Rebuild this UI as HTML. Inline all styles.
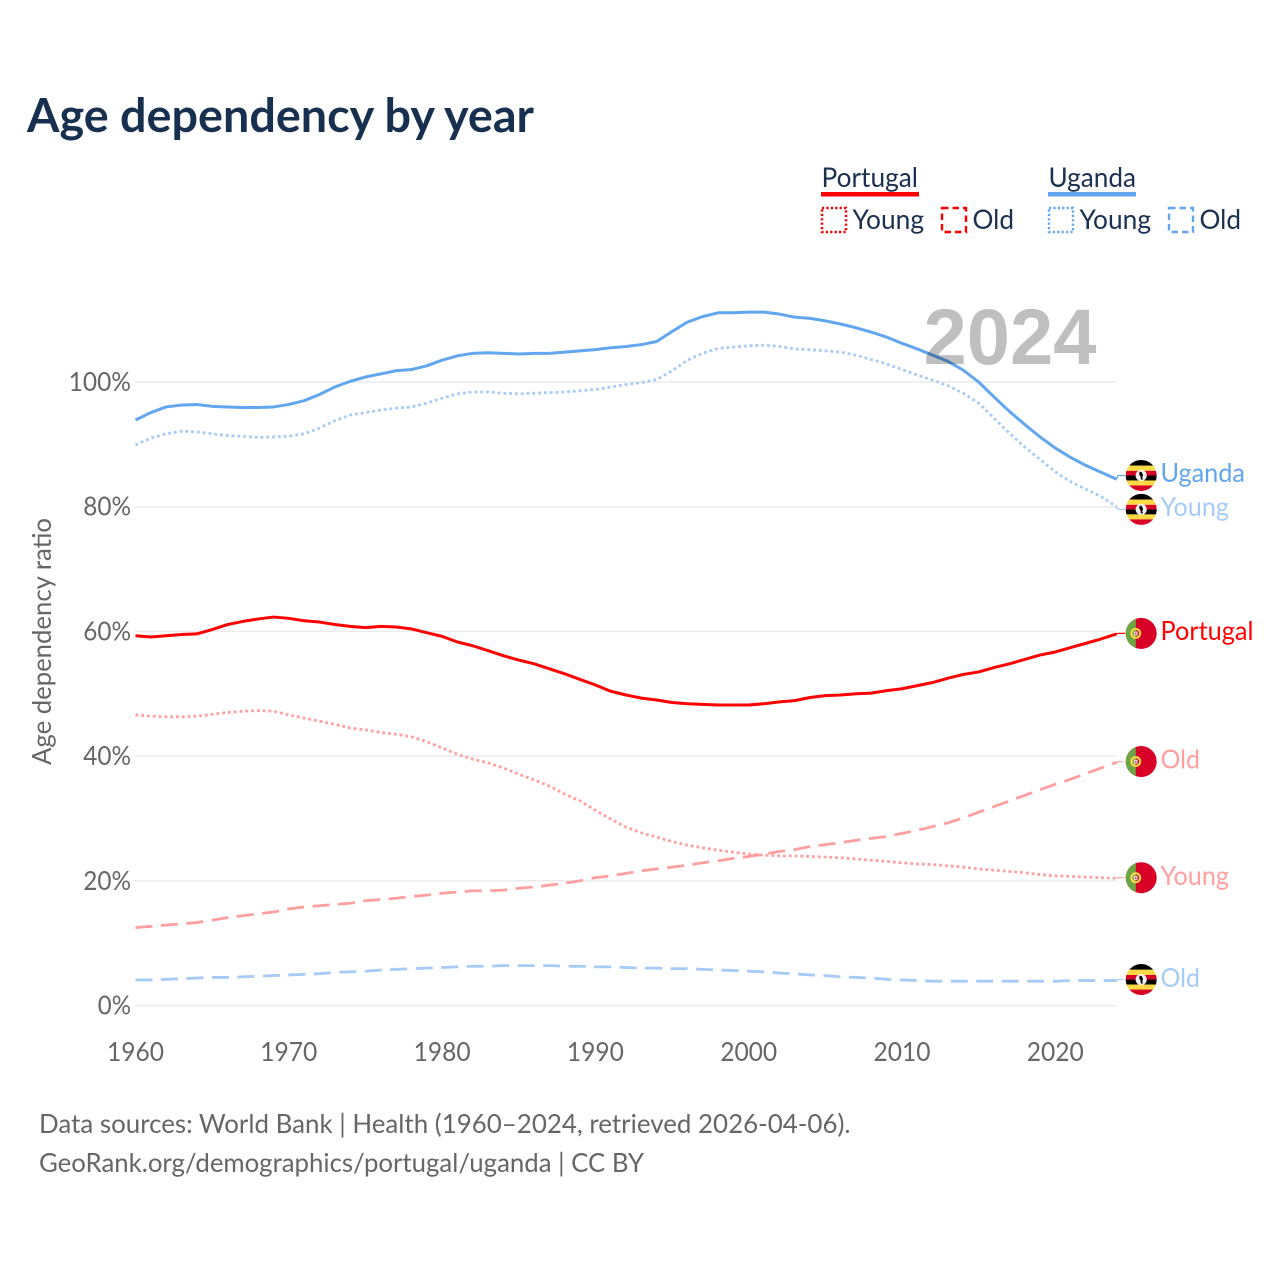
<!DOCTYPE html>
<html lang="en">
<head>
<meta charset="utf-8">
<title>Age dependency by year</title>
<style>
html,body{margin:0;padding:0;background:#fff;}
svg{display:block;}
text{font-family:"Lato","Carlito","Liberation Sans",sans-serif;}
.tick{font-size:26.5px;fill:#666;}
.lg{font-size:27.5px;fill:#1a3152;}
.src{font-size:26.5px;fill:#666;}
</style>
</head>
<body>
<svg id="chart" xmlns="http://www.w3.org/2000/svg" width="1280" height="1280" viewBox="0 0 1280 1280">
  <rect width="1280" height="1280" fill="#fff"/>
  <defs>
    <clipPath id="flag-clip"><circle r="15.5"/></clipPath>
    <g id="flag-ug" clip-path="url(#flag-clip)">
      <rect x="-16" y="-16" width="32" height="6.2" fill="#000"/>
      <rect x="-16" y="-9.8" width="32" height="5.2" fill="#ffda44"/>
      <rect x="-16" y="-4.6" width="32" height="4.6" fill="#d80027"/>
      <rect x="-16" y="0" width="32" height="5" fill="#000"/>
      <rect x="-16" y="5" width="32" height="5" fill="#ffda44"/>
      <rect x="-16" y="10" width="32" height="6" fill="#d80027"/>
      <circle r="5.6" fill="#f0f0f0"/>
      <path d="M-1.6 -3.8 L0.6 -3.4 L1.8 -0.4 L1 2 L1.8 4 L-0.4 4 L-0.6 1 L-2 -1 Z" fill="#000"/>
    </g>
    <g id="flag-pt" clip-path="url(#flag-clip)">
      <rect x="-16" y="-16" width="32" height="32" fill="#d80027"/>
      <rect x="-16" y="-16" width="10.6" height="32" fill="#6da544"/>
      <circle cx="-5.4" r="4.4" fill="none" stroke="#ffda44" stroke-width="2.1"/>
      <rect x="-7.2" y="-1.8" width="3.6" height="3.8" fill="#f0f0f0"/>
      <rect x="-6.1" y="-0.7" width="1.4" height="1.6" fill="#d80027"/>
    </g>
  </defs>

  <text x="27" y="132" font-size="47" font-weight="700" fill="#17304f" textLength="507" lengthAdjust="spacingAndGlyphs">Age dependency by year</text>

  <g>
    <text class="lg" x="821.5" y="187" textLength="96.5" lengthAdjust="spacingAndGlyphs">Portugal</text>
    <rect x="821" y="192" width="98" height="4.5" fill="#ff0000"/>
    <rect x="822" y="208" width="24" height="24" fill="none" stroke="#ff0000" stroke-width="2.4" stroke-dasharray="2.2 2.2"/>
    <text class="lg" x="852.5" y="229" textLength="71.5" lengthAdjust="spacingAndGlyphs">Young</text>
    <rect x="942" y="208" width="24" height="24" fill="none" stroke="#ff0000" stroke-width="2.4" stroke-dasharray="6.5 4"/>
    <text class="lg" x="972.5" y="229" textLength="41.5" lengthAdjust="spacingAndGlyphs">Old</text>
    <text class="lg" x="1048.5" y="187" textLength="87.5" lengthAdjust="spacingAndGlyphs">Uganda</text>
    <rect x="1048" y="192" width="88" height="4.5" fill="#63a6f0"/>
    <rect x="1049" y="208" width="24" height="24" fill="none" stroke="#63a6f0" stroke-width="2.4" stroke-dasharray="2.2 2.2"/>
    <text class="lg" x="1079.5" y="229" textLength="71.5" lengthAdjust="spacingAndGlyphs">Young</text>
    <rect x="1169" y="208" width="24" height="24" fill="none" stroke="#63a6f0" stroke-width="2.4" stroke-dasharray="6.5 4"/>
    <text class="lg" x="1199.5" y="229" textLength="41.5" lengthAdjust="spacingAndGlyphs">Old</text>
  </g>

  <text class="tick" transform="translate(51,765) rotate(-90)" textLength="247" lengthAdjust="spacingAndGlyphs">Age dependency ratio</text>

  <g id="grid"></g>
  <g id="yticks"></g>
  <g id="xticks"></g>
  <g id="lines"></g>
  <g id="ends"></g>

  <text x="923.5" y="364" font-size="79" font-weight="700" fill="#000" fill-opacity="0.25" style="font-family:'Liberation Sans',sans-serif" textLength="173" lengthAdjust="spacingAndGlyphs">2024</text>

  <text class="src" x="39" y="1133" textLength="811.5" lengthAdjust="spacingAndGlyphs">Data sources: World Bank | Health (1960–2024, retrieved 2026-04-06).</text>
  <text class="src" x="39" y="1172" textLength="605" lengthAdjust="spacingAndGlyphs">GeoRank.org/demographics/portugal/uganda | CC BY</text>
</svg>
<script>
const firstYear = 1960;
const xTickYears = [1960, 1970, 1980, 1990, 2000, 2010, 2020];
const yTickValues = [0, 20, 40, 60, 80, 100];
const yTickLabels = ['0%', '20%', '40%', '60%', '80%', '100%'];

const ugandaTotal = [
  93.9,95.1,96.0,96.3,96.4,
  96.1,96.0,95.9,95.9,96.0,
  96.4,97.0,98.0,99.2,100.1,
  100.8,101.3,101.8,102.0,102.6,
  103.5,104.2,104.6,104.7,104.6,
  104.5,104.6,104.6,104.8,105.0,
  105.2,105.5,105.7,106.0,106.5,
  108.1,109.6,110.5,111.1,111.1,
  111.2,111.2,110.9,110.4,110.2,
  109.8,109.3,108.7,108.0,107.2,
  106.2,105.3,104.3,103.3,101.9,
  100.0,97.6,95.3,93.2,91.2,
  89.4,87.9,86.6,85.5,84.4
];
const ugandaYoung = [
  89.9,91.0,91.7,92.1,92.0,
  91.7,91.4,91.3,91.1,91.2,
  91.3,91.7,92.6,93.8,94.7,
  95.1,95.5,95.8,96.0,96.6,
  97.4,98.1,98.4,98.4,98.2,
  98.1,98.2,98.3,98.4,98.6,
  98.8,99.2,99.6,99.9,100.4,
  101.8,103.5,104.6,105.4,105.6,
  105.8,105.9,105.7,105.3,105.2,
  105.0,104.8,104.3,103.6,102.9,
  102.0,101.1,100.3,99.4,98.2,
  96.6,94.2,91.8,89.6,87.6,
  85.6,84.0,82.8,81.6,80.0
];
const ugandaOld = [
  4.1,4.1,4.2,4.3,4.4,
  4.5,4.5,4.6,4.7,4.8,
  4.9,5.0,5.1,5.3,5.4,
  5.5,5.7,5.8,5.9,6.0,
  6.1,6.2,6.3,6.3,6.4,
  6.4,6.4,6.4,6.3,6.3,
  6.2,6.2,6.1,6.0,6.0,
  5.9,5.9,5.8,5.7,5.6,
  5.5,5.4,5.2,5.1,4.9,
  4.8,4.6,4.5,4.4,4.2,
  4.1,4.0,3.9,3.9,3.9,
  3.9,3.9,3.9,3.9,3.9,
  3.9,4.0,4.0,4.0,4.0
];
const portugalTotal = [
  59.3,59.1,59.3,59.5,59.6,
  60.3,61.1,61.6,62.0,62.3,
  62.1,61.7,61.5,61.1,60.8,
  60.6,60.8,60.7,60.4,59.8,
  59.2,58.3,57.7,56.9,56.1,
  55.4,54.8,54.0,53.2,52.3,
  51.4,50.4,49.8,49.3,49.0,
  48.6,48.4,48.3,48.2,48.2,
  48.2,48.4,48.7,48.9,49.4,
  49.7,49.8,50.0,50.1,50.5,
  50.8,51.3,51.8,52.5,53.1,
  53.5,54.2,54.8,55.5,56.2,
  56.7,57.4,58.1,58.8,59.6
];
const portugalYoung = [
  46.6,46.4,46.3,46.3,46.4,
  46.7,47.0,47.2,47.3,47.2,
  46.6,46.1,45.6,45.1,44.5,
  44.2,43.8,43.5,43.1,42.3,
  41.3,40.3,39.5,38.9,38.1,
  37.1,36.2,35.2,33.9,32.8,
  31.3,29.9,28.6,27.7,27.0,
  26.3,25.7,25.3,24.9,24.6,
  24.3,24.1,24.0,24.0,23.9,
  23.8,23.7,23.5,23.3,23.1,
  22.9,22.7,22.6,22.4,22.2,
  21.9,21.7,21.5,21.3,21.0,
  20.8,20.7,20.6,20.5,20.4
];
const portugalOld = [
  12.5,12.7,12.9,13.1,13.3,
  13.7,14.1,14.4,14.7,15.0,
  15.5,15.8,16.0,16.2,16.4,
  16.8,17.0,17.2,17.5,17.7,
  18.0,18.2,18.4,18.4,18.5,
  18.8,19.0,19.3,19.6,20.0,
  20.5,20.8,21.2,21.6,21.9,
  22.2,22.5,22.9,23.2,23.6,
  23.9,24.3,24.7,25.0,25.5,
  25.8,26.1,26.5,26.8,27.1,
  27.6,28.1,28.7,29.3,30.1,
  31.0,31.9,32.8,33.7,34.6,
  35.5,36.3,37.2,38.1,39.0
];

function xScale(year) { return 135.5 + (year - 1960) * 15.33; }
function yScale(v) { return 1005.5 - v * 6.235; }

const NS = 'http://www.w3.org/2000/svg';
function make(tag, parent, attrs, txt) {
  const el = document.createElementNS(NS, tag);
  for (const k in attrs) el.setAttribute(k, attrs[k]);
  if (txt !== undefined) el.textContent = txt;
  parent.appendChild(el);
  return el;
}

const gridG = document.getElementById('grid');
const yG = document.getElementById('yticks');
const xG = document.getElementById('xticks');
const linesG = document.getElementById('lines');
const endsG = document.getElementById('ends');

yTickValues.forEach(function (v, i) {
  const line = make('line', gridG, { x1: 135, x2: 1116, y1: yScale(v), y2: yScale(v), stroke: '#ebebeb', 'stroke-width': 1.5 });
  
  
  const label = yTickLabels[i];
  const t = make('text', yG, { class: 'tick', x: 131, y: yScale(v) + 9, 'text-anchor': 'end', textLength: label.length * 14.6 + 4, lengthAdjust: 'spacingAndGlyphs' }, label);
  
  
});

xTickYears.forEach(function (yr) {
  const t = make('text', xG, { class: 'tick', x: xScale(yr), y: 1061, 'text-anchor': 'middle', textLength: 57, lengthAdjust: 'spacingAndGlyphs' }, String(yr));
  
  
});

function drawLine(values, color, width, dash, name) {
  const d = values.map(function (v, i) {
    return (i ? 'L' : 'M') + xScale(firstYear + i).toFixed(2) + ' ' + yScale(v).toFixed(2);
  }).join(' ');
  const attrs = { d: d, fill: 'none', stroke: color, 'stroke-width': width, 'stroke-linejoin': 'round' };
  if (dash) attrs['stroke-dasharray'] = dash;
  const p = make('path', linesG, attrs);
  
  
}

function drawEnd(values, color, dash, flag, label, nudge, textNudge, textWidth, name) {
  const endY = yScale(values[values.length - 1]);
  const fy = endY + nudge;
  const attrs = { d: 'M1116.5 ' + endY.toFixed(2) + ' L1118 ' + fy.toFixed(2) + ' L1125 ' + fy.toFixed(2), fill: 'none', stroke: color, 'stroke-width': 1.2 };
  if (dash) attrs['stroke-dasharray'] = dash;
  const c = make('path', endsG, attrs);
  
  
  const f = make('use', endsG, { href: flag, transform: 'translate(1141.2,' + fy.toFixed(2) + ')' });
  
  
  const t = make('text', endsG, { x: 1160.5, y: (fy + textNudge).toFixed(2), 'font-size': 26.5, fill: color, textLength: textWidth, lengthAdjust: 'spacingAndGlyphs' }, label);
  
  
}

const RED = '#ff0000', RED_L = '#ff9f9f', BLUE = '#63a6f0', BLUE_L = '#a5cbf6';
const DOT = '2.8 3', DASH = '17 8.5';

drawLine(ugandaOld, BLUE_L, 2.8, DASH, 'uganda-old-line');
drawLine(portugalOld, RED_L, 2.8, DASH, 'portugal-old-line');
drawLine(portugalYoung, RED_L, 2.8, DOT, 'portugal-young-line');
drawLine(ugandaYoung, BLUE_L, 2.8, DOT, 'uganda-young-line');
drawLine(portugalTotal, RED, 3, null, 'portugal-total-line');
drawLine(ugandaTotal, BLUE, 3, null, 'uganda-total-line');

drawEnd(ugandaTotal, BLUE, null, '#flag-ug', 'Uganda', -3.8, 6.6, 84.5, 'uganda-total-end');
drawEnd(ugandaYoung, BLUE_L, null, '#flag-ug', 'Young', 2.7, 6.6, 68.5, 'uganda-young-end');
drawEnd(portugalTotal, RED, null, '#flag-pt', 'Portugal', -0.5, 6.6, 93, 'portugal-total-end');
drawEnd(portugalOld, RED_L, '7 4', '#flag-pt', 'Old', -0.8, 6.8, 39.5, 'portugal-old-end');
drawEnd(portugalYoung, RED_L, '7 1', '#flag-pt', 'Young', -0.6, 7.4, 68.5, 'portugal-young-end');
drawEnd(ugandaOld, BLUE_L, '7 1', '#flag-ug', 'Old', -1, 7.4, 39.5, 'uganda-old-end');
</script>
</body>
</html>
